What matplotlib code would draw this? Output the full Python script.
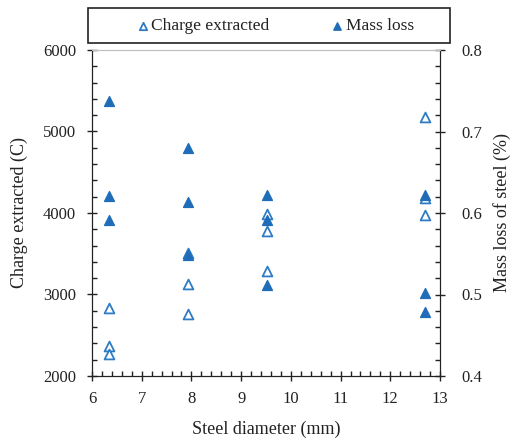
import numpy as np
import matplotlib
matplotlib.use("Agg")
from matplotlib import pyplot as plt
from matplotlib.ticker import MultipleLocator

plt.rcParams['font.family'] = ['Liberation Serif', 'DejaVu Serif']
plt.rcParams['font.size'] = 12

# 数据
diameter = [6.35, 6.35, 6.35, 7.94, 7.94, 7.94, 9.53, 9.53, 9.53, 12.7, 12.7, 12.7]
charge = [2840, 2370, 2270, 3510, 3130, 2765, 3990, 3785, 3290, 5180, 4180, 3970]
mass_loss = [0.738, 0.621, 0.592, 0.680, 0.613, 0.548, 0.622, 0.591, 0.512, 0.622, 0.502, 0.478]

blue = '#1f6db8'
edge = '#2e7cc6'
txt = '#222222'

fig = plt.figure(figsize=(5.17, 4.42), dpi=100)
ax = fig.add_axes([92 / 517, 1 - 376 / 442, 348 / 517, 326 / 442])
ax2 = ax.twinx()

h1 = ax.scatter(diameter, charge, marker='^', s=50, facecolors='white',
                edgecolors=edge, linewidths=1.3, zorder=3, label='Charge extracted')
h2 = ax2.scatter(diameter, mass_loss, marker='^', s=50, color=blue,
                 zorder=4, label='Mass loss')

ax.set_xlim(6, 13)
ax.set_ylim(2000, 6000)
ax2.set_ylim(0.4, 0.8)

ax.xaxis.set_major_locator(MultipleLocator(1))
ax.xaxis.set_minor_locator(MultipleLocator(0.2))
ax.yaxis.set_major_locator(MultipleLocator(1000))
ax.yaxis.set_minor_locator(MultipleLocator(200))
ax2.yaxis.set_major_locator(MultipleLocator(0.1))
ax2.yaxis.set_minor_locator(MultipleLocator(0.02))

for a in (ax, ax2):
    a.tick_params(which='major', direction='inout', length=7, width=1, colors=txt,
                  labelcolor=txt)
    a.tick_params(which='minor', direction='in', length=3.5, width=1, colors=txt)
    a.spines['top'].set_color('#c0c0c0')
    for s in ('left', 'right', 'bottom'):
        a.spines[s].set_color(txt)
ax.tick_params(axis='x', which='major', pad=7)
ax.tick_params(axis='x', which='both', top=False)
ax.tick_params(axis='y', which='major', pad=8)
ax2.tick_params(axis='y', which='major', pad=12, labelright=True)

ax.set_xlabel('Steel diameter (mm)', fontsize=13, color=txt)
ax.set_ylabel('Charge extracted (C)', fontsize=13, color=txt)
ax2.set_ylabel('Mass loss of steel (%)', fontsize=13, color=txt)
ax.xaxis.set_label_coords(0.5, (376 - 421) / 326)
ax.yaxis.set_label_coords((28 - 92) / 348, 0.5)
ax2.yaxis.set_label_coords((493 - 92) / 348, 0.5)

leg = fig.legend([h1, h2], ['Charge extracted', 'Mass loss'], ncol=2,
                 loc='center', bbox_to_anchor=(274 / 517, 1 - 26 / 442),
                 frameon=False, handletextpad=0.0, columnspacing=3.4,
                 markerscale=0.75, handlelength=1.0, fontsize=12.5)
for t in leg.get_texts():
    t.set_color(txt)
fig.patches.append(plt.Rectangle((88 / 517, 1 - 43 / 442), 362 / 517, 35 / 442,
                                 transform=fig.transFigure, fill=False,
                                 edgecolor=txt, linewidth=1.2))

fig.savefig('out.png', dpi=100)
